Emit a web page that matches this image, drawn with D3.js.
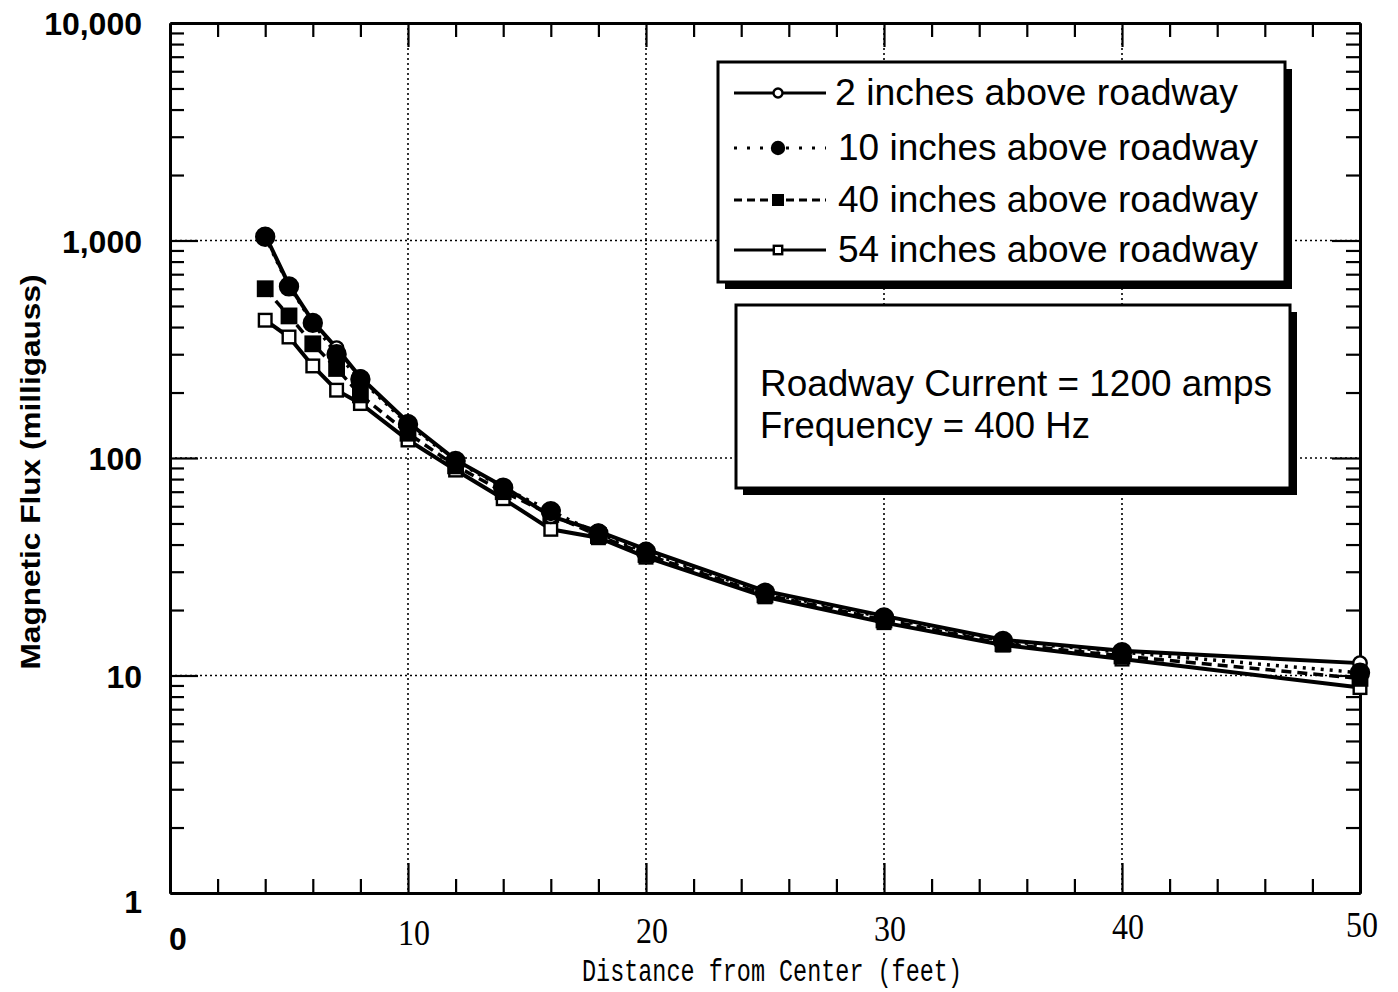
<!DOCTYPE html>
<html>
<head>
<meta charset="utf-8">
<script src="https://cdn.jsdelivr.net/npm/d3@7"></script>
<style>
  body { margin: 0; background: #fff; }
  svg { display: block; }
</style>
</head>
<body>
<div id="chart"></div>
<script>
// distances from center (feet)
var distance = [4, 5, 6, 7, 8, 10, 12, 14, 16, 18, 20, 25, 30, 35, 40, 50];

// magnetic flux (milligauss) per height above roadway
var flux2in  = [1060, 625, 425, 320, 235, 146, 98, 74, 54, 46, 38, 24.5, 18.8, 14.6, 13.0, 11.4];
var flux10in = [1040, 615, 418, 300, 230, 143, 97, 73, 57, 45, 37, 24, 18.5, 14.4, 12.8, 10.3];
var flux40in = [600, 450, 335, 258, 195, 130, 92, 70, 55, 44, 36, 23.5, 18, 14, 12.3, 9.7];
var flux54in = [430, 360, 265, 205, 178, 121, 88, 65, 47, 43, 35, 23, 17.5, 13.8, 11.9, 8.8];

var seriesNames = ["2 inches above roadway", "10 inches above roadway",
                   "40 inches above roadway", "54 inches above roadway"];
var xTickLabels = [0, 10, 20, 30, 40, 50];
var yTickLabels = [1, 10, 100, 1000, 10000];
var infoLines = ["Roadway Current = 1200 amps", "Frequency = 400 Hz"];

var W = 1398, H = 992;
var svg = d3.select("#chart").append("svg")
    .attr("width", W)
    .attr("height", H);

var x = d3.scaleLinear().domain([0, 50]).range([170, 1360]);
var y = d3.scaleLog().domain([1, 10000]).range([893, 23]);

// minor log ticks
var logTicks = [];
[1, 10, 100, 1000].forEach(function(d) {
  for (var k = 2; k <= 9; k++) logTicks.push(d * k);
});

// gridlines
svg.append("g").selectAll("line")
    .data([10, 20, 30, 40])
    .enter().append("line")
    .attr("x1", function(d) { return x(d); })
    .attr("x2", function(d) { return x(d); })
    .attr("y1", y(10000))
    .attr("y2", y(1))
    .attr("stroke", "#000")
    .attr("stroke-width", 1.6)
    .attr("stroke-dasharray", "2,3");
svg.append("g").selectAll("line")
    .data([10, 100, 1000])
    .enter().append("line")
    .attr("x1", x(0))
    .attr("x2", x(50))
    .attr("y1", function(d) { return y(d); })
    .attr("y2", function(d) { return y(d); })
    .attr("stroke", "#000")
    .attr("stroke-width", 1.6)
    .attr("stroke-dasharray", "2,3");

// axes (ticks point inward)
function styleAxis(g) {
  g.select(".domain").attr("stroke-width", 3);
  g.selectAll(".tick line").attr("stroke-width", 2.2);
}
var minorX = d3.range(2, 50, 2).filter(function(d) { return d % 10; });
svg.append("g")
    .attr("transform", "translate(0," + y(1) + ")")
    .call(d3.axisBottom(x).tickValues(minorX).tickSize(-14).tickSizeOuter(0).tickFormat(""))
    .call(styleAxis);
svg.append("g")
    .attr("transform", "translate(0," + y(1) + ")")
    .call(d3.axisBottom(x).tickValues([10, 20, 30, 40]).tickSize(-30).tickSizeOuter(0).tickFormat(""))
    .call(styleAxis);
svg.append("g")
    .attr("transform", "translate(0," + y(10000) + ")")
    .call(d3.axisTop(x).tickValues(minorX).tickSize(-14).tickSizeOuter(0).tickFormat(""))
    .call(styleAxis);
svg.append("g")
    .attr("transform", "translate(0," + y(10000) + ")")
    .call(d3.axisTop(x).tickValues([10, 20, 30, 40]).tickSize(-24).tickSizeOuter(0).tickFormat(""))
    .call(styleAxis);
svg.append("g")
    .attr("transform", "translate(" + x(0) + ",0)")
    .call(d3.axisLeft(y).tickValues(logTicks).tickSize(-14).tickSizeOuter(0).tickFormat(""))
    .call(styleAxis);
svg.append("g")
    .attr("transform", "translate(" + x(0) + ",0)")
    .call(d3.axisLeft(y).tickValues([10, 100, 1000]).tickSize(-28).tickSizeOuter(0).tickFormat(""))
    .call(styleAxis);
svg.append("g")
    .attr("transform", "translate(" + x(50) + ",0)")
    .call(d3.axisRight(y).tickValues(logTicks).tickSize(-14).tickSizeOuter(0).tickFormat(""))
    .call(styleAxis);
svg.append("g")
    .attr("transform", "translate(" + x(50) + ",0)")
    .call(d3.axisRight(y).tickValues([10, 100, 1000]).tickSize(-28).tickSizeOuter(0).tickFormat(""))
    .call(styleAxis);

// y tick labels
svg.append("g").selectAll("text")
    .data(yTickLabels)
    .enter().append("text")
    .attr("x", 142)
    .attr("y", function(d) { return y(d) + (d === 1 ? 20 : 12); })
    .attr("text-anchor", "end")
    .style("font-family", "Liberation Sans, Arial, sans-serif")
    .style("font-weight", "bold")
    .style("font-size", "32px")
    .text(function(d) { return d3.format(",")(d); });

// x tick labels
svg.append("g").selectAll("text")
    .data(xTickLabels)
    .enter().append("text")
    .attr("x", function(d) { return x(d) + (d === 0 ? 8 : d === 50 ? 2 : 6); })
    .attr("y", function(d) { return d === 0 ? 950 : 947 - d * 0.2; })
    .attr("text-anchor", "middle")
    .style("font-family", function(d) { return d === 0 ? "Liberation Sans, Arial, sans-serif" : "Liberation Serif, serif"; })
    .style("font-weight", function(d) { return d === 0 ? "bold" : "normal"; })
    .style("font-size", function(d) { return d === 0 ? "32px" : "36px"; })
    .attr("textLength", function(d) { return d === 0 ? null : 32; })
    .attr("lengthAdjust", "spacingAndGlyphs")
    .text(function(d) { return d; });

// axis titles
svg.append("text")
    .attr("x", 772)
    .attr("y", 981)
    .attr("text-anchor", "middle")
    .attr("textLength", 380)
    .attr("lengthAdjust", "spacingAndGlyphs")
    .style("font-family", "Liberation Mono, monospace")
    .style("font-size", "31px")
    .text("Distance from Center (feet)");
svg.append("text")
    .attr("transform", "translate(40,472) rotate(-90)")
    .attr("text-anchor", "middle")
    .attr("textLength", 395)
    .attr("lengthAdjust", "spacingAndGlyphs")
    .style("font-family", "Liberation Sans, Arial, sans-serif")
    .style("font-weight", "bold")
    .style("font-size", "28px")
    .text("Magnetic Flux (milligauss)");

// series
var series = [
  {name: seriesNames[0], values: flux2in,  dash: null,   marker: "circle", fill: "#fff", width: 4},
  {name: seriesNames[1], values: flux10in, dash: "3,6",  marker: "circle", fill: "#000", width: 3.5},
  {name: seriesNames[2], values: flux40in, dash: "10,6", marker: "square", fill: "#000", width: 3.5},
  {name: seriesNames[3], values: flux54in, dash: null,   marker: "square", fill: "#fff", width: 4}
];

var line = d3.line()
    .x(function(d) { return x(d[0]); })
    .y(function(d) { return y(d[1]); });

function drawMarker(g, type, fill, size) {
  if (type === "circle") {
    g.append("circle").attr("r", fill === "#000" ? size : size * 0.75)
      .attr("fill", fill).attr("stroke", "#000").attr("stroke-width", 2.4);
  } else {
    var s = fill === "#000" ? size * 1.6 : size * 1.4;
    g.append("rect").attr("x", -s / 2).attr("y", -s / 2).attr("width", s).attr("height", s)
      .attr("fill", fill).attr("stroke", "#000").attr("stroke-width", 2.4);
  }
}

// lowest first; filled circles (10 in) end up on top as in the scan
[3, 2, 0, 1].forEach(function(i) {
  var s = series[i];
  var pts = distance.map(function(d, j) { return [d, s.values[j]]; });
  svg.append("path")
      .datum(pts)
      .attr("fill", "none")
      .attr("stroke", "#000")
      .attr("stroke-width", s.width)
      .attr("stroke-dasharray", s.dash)
      .attr("d", line);
  svg.append("g").selectAll("g")
      .data(pts)
      .enter().append("g")
      .attr("transform", function(d) { return "translate(" + x(d[0]) + "," + y(d[1]) + ")"; })
      .each(function() { drawMarker(d3.select(this), s.marker, s.fill, 9); });
});

// boxes with drop shadow
function shadowBox(x0, y0, w, h) {
  svg.append("rect").attr("x", x0 + 7).attr("y", y0 + 7).attr("width", w).attr("height", h)
      .attr("fill", "#000");
  svg.append("rect").attr("x", x0).attr("y", y0).attr("width", w).attr("height", h)
      .attr("fill", "#fff").attr("stroke", "#000").attr("stroke-width", 3);
}

shadowBox(718, 62, 567, 220);
var legendY = [93, 148, 200, 250];
var legendDash = [null, "3,10", "8,5", null];
series.forEach(function(s, i) {
  var g = svg.append("g").attr("transform", "translate(0," + legendY[i] + ")");
  g.append("line")
      .attr("x1", 734).attr("x2", 826).attr("y1", 0).attr("y2", 0)
      .attr("stroke", "#000").attr("stroke-width", 3)
      .attr("stroke-dasharray", legendDash[i]);
  var m = g.append("g").attr("transform", "translate(778,0)");
  drawMarker(m, s.marker, s.fill, 6);
  g.append("text")
      .attr("x", i === 0 ? 835 : 838)
      .attr("y", 12)
      .attr("textLength", i === 0 ? 403 : 420)
      .attr("lengthAdjust", "spacingAndGlyphs")
      .style("font-family", "Liberation Sans, Arial, sans-serif")
      .style("font-size", "36px")
      .text(s.name);
});

// info box
shadowBox(736, 305, 554, 183);
svg.append("g").selectAll("text")
    .data(infoLines)
    .enter().append("text")
    .attr("x", 760)
    .attr("y", function(d, i) { return 396 + i * 42; })
    .attr("textLength", function(d, i) { return i === 0 ? 512 : 330; })
    .attr("lengthAdjust", "spacingAndGlyphs")
    .style("font-family", "Liberation Sans, Arial, sans-serif")
    .style("font-size", "36px")
    .text(function(d) { return d; });
</script>
</body>
</html>
